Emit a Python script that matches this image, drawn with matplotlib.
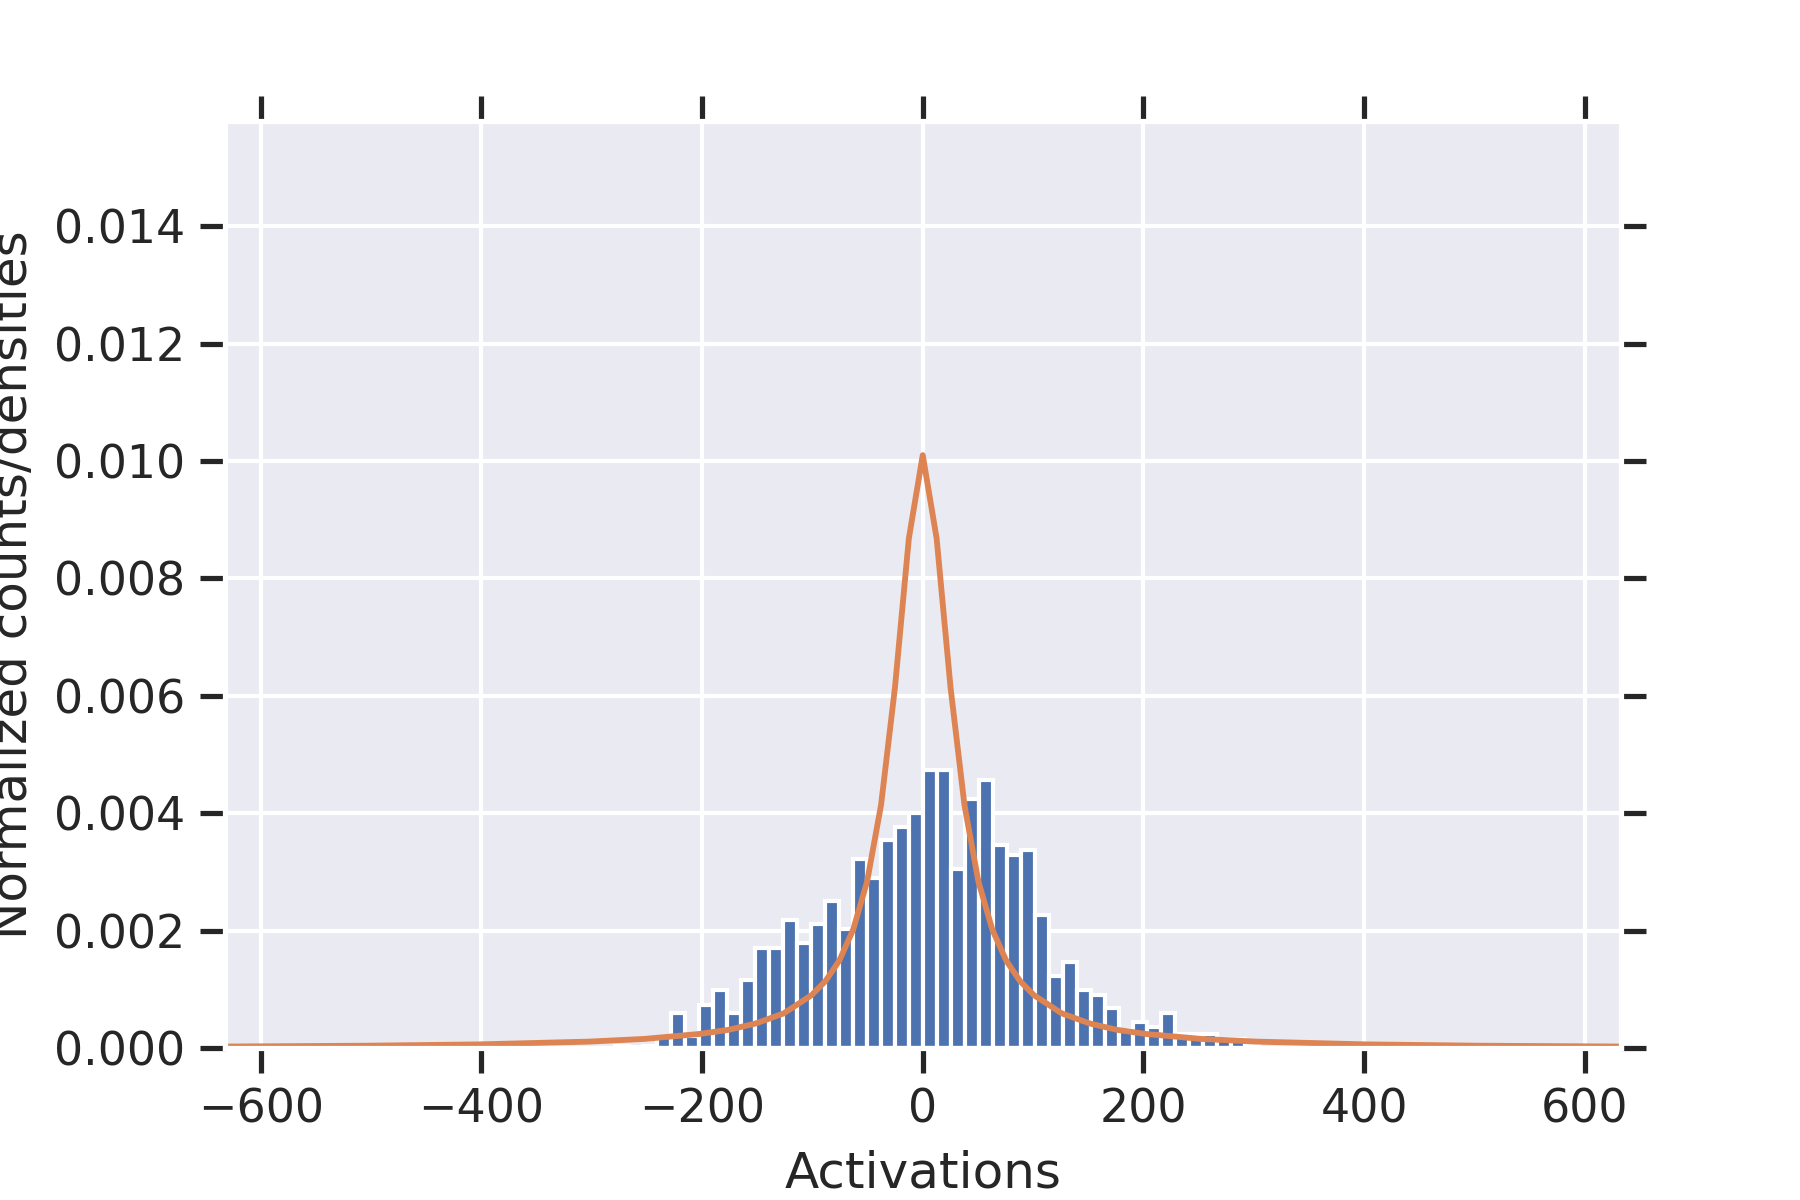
import numpy as np
import matplotlib
matplotlib.use("Agg")
import matplotlib.pyplot as plt
import seaborn as sns

# normalized histogram of activations
bin_start = -279.2
bin_width = 12.69
bar_heights = [
    0.00004, 0.00002, 0.00004, 0.00018, 0.00059, 0.00020, 0.00074, 0.00098,
    0.00059, 0.00116, 0.00170, 0.00170, 0.00218, 0.00179, 0.00211, 0.00250,
    0.00203, 0.00322, 0.00290, 0.00354, 0.00377, 0.00401, 0.00473, 0.00473,
    0.00305, 0.00425, 0.00457, 0.00346, 0.00329, 0.00338, 0.00226, 0.00122,
    0.00146, 0.00098, 0.00091, 0.00068, 0.00030, 0.00044, 0.00035, 0.00059,
    0.00024, 0.00023, 0.00023, 0.00015, 0.00015, 0.00003,
]

# fitted density curve
curve_x = [-632.5, -504, -403, -302, -252, -202, -176, -151, -126, -100.8,
           -88.2, -75.6, -63, -50.4, -37.8, -25.2, -12.6, 0,
           12.6, 25.2, 37.8, 50.4, 63, 75.6, 88.2, 100.8,
           126, 151, 176, 202, 252, 302, 403, 504, 632.5]
curve_y = [0.000025, 0.000039, 0.000061, 0.000109, 0.000155, 0.00024, 0.00031,
           0.00042, 0.00059, 0.00090, 0.00114, 0.00149, 0.00202, 0.00284,
           0.00414, 0.00614, 0.00868, 0.01010,
           0.00868, 0.00614, 0.00414, 0.00284, 0.00202, 0.00149, 0.00114,
           0.00090, 0.00059, 0.00042, 0.00031, 0.00024, 0.000155, 0.000109,
           0.000061, 0.000039, 0.000025]

sns.set_theme(style="darkgrid", context="notebook")
plt.rcParams['font.family'] = ['DejaVu Sans']

fig = plt.figure(figsize=(6, 4), dpi=300)
ax = fig.add_axes([225 / 1800, 1 - 1048 / 1200, (1620.5 - 225) / 1800, (1048 - 120.5) / 1200])

edges = bin_start + bin_width * np.arange(len(bar_heights))
ax.bar(edges, bar_heights, width=bin_width, align='edge',
       color='#4C72B0', edgecolor='white', linewidth=1)
ax.plot(curve_x, curve_y, color='#DD8452', lw=1.4)

ax.set_xlim(-632.5, 632.5)
ax.set_ylim(0, 0.0158)
ax.set_xticks([-600, -400, -200, 0, 200, 400, 600])
ax.set_yticks([0, 0.002, 0.004, 0.006, 0.008, 0.010, 0.012, 0.014])
ax.yaxis.set_major_formatter(matplotlib.ticker.FormatStrFormatter('%.3f'))

ax.tick_params(which='major', direction='out', length=6, width=1.25, color='.15',
               top=True, bottom=True, left=True, right=True,
               labeltop=False, labelright=False, labelsize=11, labelcolor='.15')
for s in ax.spines.values():
    s.set_color('white')
    s.set_linewidth(1.25)

ax.set_xlabel('Activations', fontsize=12, color='.15')
ax.set_ylabel('Normalized counts/densities', fontsize=12, color='.15')

fig.savefig('out.png', dpi=300)
